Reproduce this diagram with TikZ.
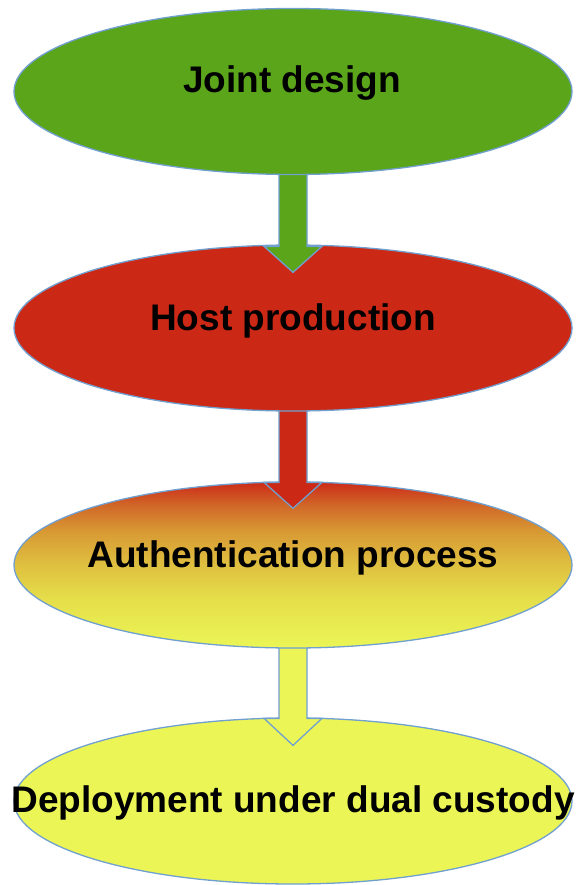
\documentclass[tikz,border=0pt]{standalone}
\usepackage{fontspec}
\setmainfont{Liberation Sans}
\usetikzlibrary{shapes.geometric,calc}
\definecolor{cgreen}{RGB}{90,165,26}
\definecolor{cred}{RGB}{204,40,22}
\definecolor{cyel}{RGB}{235,246,86}
\definecolor{cborder}{RGB}{112,160,208}
\definecolor{sA}{RGB}{204,42,24}
\definecolor{sB}{RGB}{208,104,40}
\definecolor{sC}{RGB}{216,154,52}
\definecolor{sD}{RGB}{223,192,64}
\definecolor{sE}{RGB}{229,222,74}
\pgfdeclareverticalshading{authshade}{100bp}{color(0bp)=(cyel); color(25bp)=(cyel); color(40bp)=(sE); color(50bp)=(sD); color(60bp)=(sC); color(68bp)=(sB); color(75bp)=(sA); color(100bp)=(sA)}
\tikzset{
  ell/.style={ellipse, draw=cborder, line width=1.3pt, minimum width=558pt, minimum height=166pt, inner sep=0pt},
  arr/.style={draw=cborder, line width=1.3pt, line join=miter},
  lbl/.style={font=\bfseries\fontsize{37}{40}\selectfont, text=black, inner sep=0pt, anchor=base}
}
\begin{document}
\begin{tikzpicture}[x=1pt,y=-1pt]
\useasboundingbox (0,0) rectangle (578,885);
\coordinate (c1) at (293,91.5);
\coordinate (c2) at (293,328);
\coordinate (c3) at (293,565);
\coordinate (c4) at (293,801);
% bottom ellipse
\node[ell, fill=cyel] (e4) at (c4) {};
\coordinate (t3) at ($(e4.north)+(0,28)$);
\filldraw[arr, fill=cyel] ($(c3)+(-14,0)$) -- ($(t3)+(-14,-27)$) -- ($(t3)+(-29,-27)$) -- (t3) -- ($(t3)+(29,-27)$) -- ($(t3)+(14,-27)$) -- ($(c3)+(14,0)$) -- cycle;
\node[ell, shading=authshade] (e3) at (c3) {};
\coordinate (t2) at ($(e3.north)+(0,27)$);
\filldraw[arr, fill=cred] ($(c2)+(-14,0)$) -- ($(t2)+(-14,-26)$) -- ($(t2)+(-29,-26)$) -- (t2) -- ($(t2)+(29,-26)$) -- ($(t2)+(14,-26)$) -- ($(c2)+(14,0)$) -- cycle;
\node[ell, fill=cred] (e2) at (c2) {};
\coordinate (t1) at ($(e2.north)+(0,28)$);
\filldraw[arr, fill=cgreen] ($(c1)+(-14,0)$) -- ($(t1)+(-14,-26)$) -- ($(t1)+(-29,-26)$) -- (t1) -- ($(t1)+(29,-26)$) -- ($(t1)+(14,-26)$) -- ($(c1)+(14,0)$) -- cycle;
\node[ell, fill=cgreen] (e1) at (c1) {};
% labels
\node[lbl] (l1) at (292,93) {Joint design};
\node[lbl] (l2) at (293,330) {Host production};
\node[lbl] (l3) at (293,567) {Authentication process};
\node[lbl] (l4) at (293,812) {Deployment under dual custody};
\end{tikzpicture}
\end{document}
